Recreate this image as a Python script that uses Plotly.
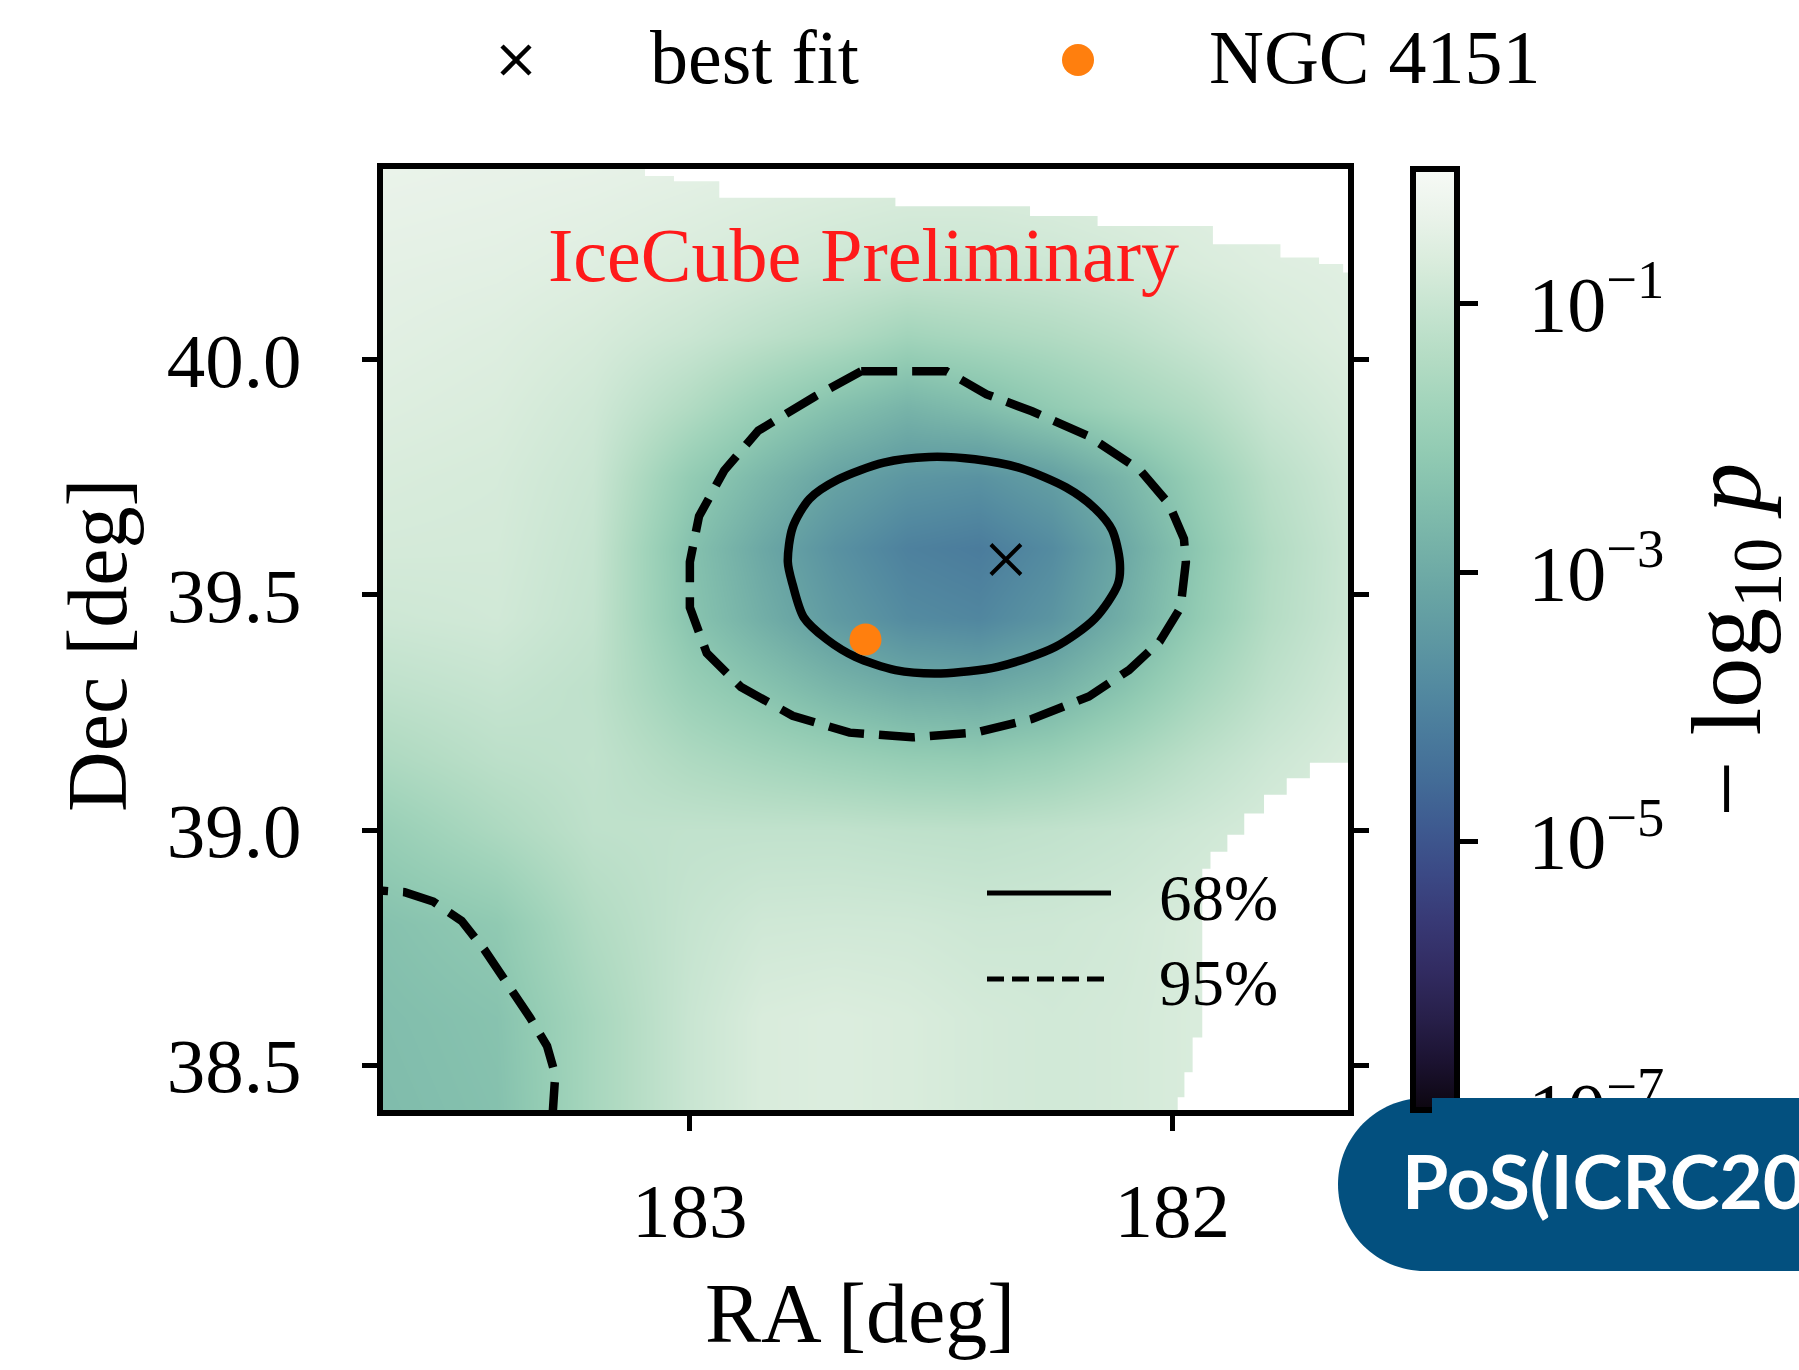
import plotly.graph_objects as go

# ---------------- data ----------------
# grid of log10(p) values (rows: Dec ascending, columns: RA ascending)
ra_grid = [181.60, 181.80, 181.95, 182.10, 182.25, 182.40, 182.55, 182.70, 182.85, 183.00, 183.20, 183.40, 183.65]
dec_grid = [38.40, 38.60, 38.80, 39.00, 39.15, 39.30, 39.45, 39.60, 39.75, 39.90, 40.05, 40.20, 40.40]
log10_p = [
    [-0.50, -0.55, -0.70, -0.80, -0.85, -0.80, -0.70, -0.65, -0.70, -1.00, -1.65, -2.40, -2.55],
    [-0.50, -0.55, -0.70, -0.80, -0.85, -0.80, -0.70, -0.65, -0.70, -1.00, -1.65, -2.35, -2.50],
    [-0.51, -0.58, -0.71, -0.84, -0.91, -0.93, -0.87, -0.86, -0.88, -1.06, -1.45, -2.15, -2.40],
    [-0.60, -0.75, -0.91, -1.05, -1.15, -1.22, -1.20, -1.15, -1.15, -1.15, -1.20, -1.55, -2.00],
    [-0.67, -0.94, -1.24, -1.59, -1.91, -2.08, -2.03, -1.88, -1.71, -1.52, -1.15, -1.25, -1.55],
    [-0.77, -1.20, -1.70, -2.29, -2.80, -3.07, -2.99, -2.71, -2.32, -1.94, -1.20, -1.05, -1.20],
    [-0.86, -1.40, -2.11, -2.90, -3.59, -3.94, -3.83, -3.45, -2.90, -2.31, -1.10, -0.85, -0.92],
    [-0.86, -1.45, -2.22, -3.07, -3.82, -4.18, -4.06, -3.66, -3.07, -2.38, -1.05, -0.80, -0.78],
    [-0.80, -1.30, -1.97, -2.69, -3.32, -3.64, -3.54, -3.20, -2.65, -2.07, -0.98, -0.76, -0.70],
    [-0.70, -1.00, -1.45, -1.75, -2.10, -2.50, -2.75, -2.40, -1.95, -1.45, -0.88, -0.68, -0.60],
    [-0.58, -0.76, -1.00, -1.25, -1.45, -1.60, -1.75, -1.45, -1.22, -0.98, -0.74, -0.60, -0.52],
    [-0.54, -0.60, -0.70, -0.82, -0.92, -0.98, -0.98, -0.90, -0.80, -0.70, -0.58, -0.50, -0.46],
    [-0.46, -0.47, -0.53, -0.55, -0.60, -0.64, -0.64, -0.59, -0.54, -0.48, -0.42, -0.39, -0.35],
]

# 68% contour (solid)
contour68_ra = [182.797, 182.787, 182.752, 182.693, 182.598, 182.504, 182.409, 182.314, 182.220, 182.161,
                182.125, 182.109, 182.113, 182.161, 182.243, 182.362, 182.480, 182.574, 182.657, 182.716,
                182.764, 182.787, 182.797]
contour68_dec = [39.570, 39.643, 39.704, 39.745, 39.781, 39.793, 39.788, 39.769, 39.728, 39.684,
                 39.638, 39.570, 39.522, 39.449, 39.389, 39.347, 39.333, 39.340, 39.368, 39.405,
                 39.452, 39.522, 39.570]

# 95% contour (dashed), main region
contour95_ra = [182.645, 182.468, 182.385, 182.291, 182.173, 182.066, 182.007, 181.976, 181.972, 181.983,
                182.026, 182.090, 182.173, 182.291, 182.409, 182.539, 182.669, 182.787, 182.894, 182.965,
                183.000, 183.000, 182.981, 182.929, 182.858, 182.740, 182.645]
contour95_dec = [39.975, 39.975, 39.926, 39.890, 39.837, 39.764, 39.693, 39.619, 39.570, 39.473,
                 39.401, 39.340, 39.284, 39.236, 39.207, 39.197, 39.207, 39.243, 39.304, 39.376,
                 39.473, 39.570, 39.667, 39.764, 39.849, 39.922, 39.975]

# 95% contour (dashed), bottom-left corner region
contour95b_ra = [183.700, 183.636, 183.591, 183.532, 183.473, 183.426, 183.378, 183.331, 183.296, 183.279, 183.284, 183.285]
contour95b_dec = [38.875, 38.872, 38.868, 38.848, 38.807, 38.746, 38.674, 38.601, 38.541, 38.480, 38.402, 38.350]

# regions without data (white, stair-stepped)
mask_top_ra = [183.093, 183.033, 182.939, 182.574, 182.295, 182.155, 181.916, 181.776, 181.696, 181.646, 181.50, 181.50, 183.093, 183.093]
mask_top_dec = [40.390, 40.379, 40.344, 40.326, 40.305, 40.284, 40.245, 40.217, 40.203, 40.185, 40.185, 40.50, 40.50, 40.390]
mask_bottom_ra = [181.50, 181.715, 181.763, 181.810, 181.851, 181.886, 181.921, 181.938, 181.958, 181.975, 181.989, 181.50, 181.50]
mask_bottom_dec = [39.143, 39.110, 39.075, 39.035, 38.990, 38.954, 38.918, 38.559, 38.485, 38.432, 38.30, 38.30, 39.143]

best_fit_ra = [182.345]
best_fit_dec = [39.575]
ngc4151_ra = [182.636]
ngc4151_dec = [39.405]

ra_range = [183.636, 181.636]
dec_range = [38.405, 40.405]
x_ticks = [182, 183]
x_ticklabels = ["182", "183"]
y_ticks = [38.5, 39.0, 39.5, 40.0]
y_ticklabels = ["38.5", "39.0", "39.5", "40.0"]
cb_ticks = [-1, -3, -5, -7]
cb_ticklabels = ["10<sup>\u22121</sup>", "10<sup>\u22123</sup>", "10<sup>\u22125</sup>", "10<sup>\u22127</sup>"]

colorscale = [
    [0.00, "#0c060f"], [0.05, "#1b1230"], [0.10, "#28204b"], [0.15, "#322c62"],
    [0.20, "#383975"], [0.25, "#3b4985"], [0.30, "#3e5a90"], [0.35, "#436c97"],
    [0.40, "#4a7b9c"], [0.45, "#538aa0"], [0.50, "#5e98a2"], [0.55, "#69a5a4"],
    [0.60, "#76b2a8"], [0.65, "#83bfad"], [0.70, "#92cbb3"], [0.75, "#a2d4bb"],
    [0.80, "#b4dcc4"], [0.85, "#c6e4d0"], [0.90, "#d9ecdc"], [0.95, "#eaf3ea"],
    [1.00, "#f7faf6"],
]

# ---------------- layout helpers ----------------
W, H = 1799, 1370
M_L, M_R, M_T, M_B = 383, 451, 169, 260
PW = W - M_L - M_R
PH = H - M_T - M_B
SERIF = "Liberation Serif"


def fx(px):
    return (px - M_L) / PW


def fy(py):
    return (H - M_B - py) / PH


NBSP = "\u00a0"

fig = go.Figure()

fig.add_trace(go.Heatmap(
    x=ra_grid, y=dec_grid, z=log10_p, zmin=-7, zmax=0, zsmooth="best",
    colorscale=colorscale, hoverinfo="skip",
    colorbar=dict(
        x=fx(1413), xanchor="left", xref="paper", xpad=0,
        y=0.5, yanchor="middle", ypad=0, len=1, lenmode="fraction",
        thickness=44, thicknessmode="pixels",
        outlinewidth=6, outlinecolor="black",
        tickmode="array", tickvals=cb_ticks,
        ticktext=[NBSP + "\u2009" + t for t in cb_ticklabels],
        ticks="outside", ticklen=18, tickwidth=5, tickcolor="black",
        tickfont=dict(family=SERIF, size=78, color="black"),
    ),
))

for mra, mdec in ((mask_top_ra, mask_top_dec), (mask_bottom_ra, mask_bottom_dec)):
    fig.add_trace(go.Scatter(
        x=mra, y=mdec, mode="lines", line=dict(width=0, shape="hv", color="white"),
        fill="toself", fillcolor="white", hoverinfo="skip", showlegend=False,
    ))

fig.add_trace(go.Scatter(
    x=contour68_ra, y=contour68_dec, mode="lines", name="68%",
    line=dict(color="black", width=8.5, shape="spline", smoothing=0.8),
    hoverinfo="skip", showlegend=False,
))
for cra, cdec in ((contour95_ra, contour95_dec), (contour95b_ra, contour95b_dec)):
    fig.add_trace(go.Scatter(
        x=cra, y=cdec, mode="lines", name="95%",
        line=dict(color="black", width=8.5, dash="36px,15px"),
        hoverinfo="skip", showlegend=False,
    ))

fig.add_trace(go.Scatter(
    x=best_fit_ra, y=best_fit_dec, mode="markers", name="best fit",
    marker=dict(symbol="x-thin", size=30, color="black", line=dict(width=4, color="black")),
    showlegend=False,
))
fig.add_trace(go.Scatter(
    x=ngc4151_ra, y=ngc4151_dec, mode="markers", name="NGC 4151",
    marker=dict(symbol="circle", size=32, color="#ff7f0e", line=dict(width=0)),
    showlegend=False,
))

annotations = []


def text_ann(txt, x, y, size, xanchor="left", yanchor="middle", color="black", angle=0, family=SERIF):
    annotations.append(dict(
        text=txt, x=fx(x), y=fy(y), xref="paper", yref="paper",
        xanchor=xanchor, yanchor=yanchor, showarrow=False, textangle=angle,
        font=dict(family=family, size=size, color=color),
    ))


text_ann("best fit", 648, 57, 76)
text_ann("NGC 4151", 1207, 57, 76)
text_ann("IceCube Preliminary", 863, 255, 76, xanchor="center", color="#ff1a1a")
text_ann("68%", 1157, 898, 65)
text_ann("95%", 1157, 983, 65)
text_ann("RA [deg]", 860, 1313, 84, xanchor="center")
text_ann("Dec [deg]", 97, 646, 84, xanchor="center", angle=-90)
text_ann("\u2212 log<sub>10</sub> <i>p</i>", 1733, 640, 100, xanchor="center", angle=-90)

# PoS badge (cover part drawn above colorbar)
annotations.append(dict(
    text=" ", x=fx(1432), y=fy(1184.5), xref="paper", yref="paper",
    xanchor="left", yanchor="middle", showarrow=False, width=420, height=173,
    bgcolor="#03507f", borderpad=0, borderwidth=0,
))
text_ann("<b>PoS(ICRC2023)</b>", 1400, 1180, 75, color="white", family="Lato")

shapes = []


def pline(x0, y0, x1, y1, width, dash=None):
    d = dict(type="line", xref="paper", yref="paper", x0=fx(x0), y0=fy(y0), x1=fx(x1), y1=fy(y1),
             line=dict(color="black", width=width))
    if dash:
        d["line"]["dash"] = dash
    shapes.append(d)


# top legend symbols
pline(502, 46, 530, 74, 4.5)
pline(502, 74, 530, 46, 4.5)
shapes.append(dict(type="circle", xref="paper", yref="paper",
                   x0=fx(1062), x1=fx(1094), y0=fy(76), y1=fy(44),
                   fillcolor="#ff7f0e", line=dict(width=0)))
# inner legend lines
pline(987, 893, 1111, 893, 5)
pline(987, 979, 1111, 979, 5, dash="17px,8px")

# badge pill
k = 47.77
cx, top, bot, r = 1424.5, 1098, 1271, 86.5
path = (f"M {fx(cx)},{fy(top)} L {fx(1900)},{fy(top)} L {fx(1900)},{fy(bot)} L {fx(cx)},{fy(bot)} "
        f"C {fx(cx - k)},{fy(bot)} {fx(cx - r)},{fy(bot - r + k)} {fx(cx - r)},{fy(bot - r)} "
        f"C {fx(cx - r)},{fy(top + r - k)} {fx(cx - k)},{fy(top)} {fx(cx)},{fy(top)} Z")
shapes.append(dict(type="path", xref="paper", yref="paper", path=path,
                   fillcolor="#03507f", line=dict(width=0), layer="above"))

axis_font = dict(family=SERIF, size=77, color="black")
fig.update_layout(
    width=W, height=H,
    margin=dict(l=M_L, r=M_R, t=M_T, b=M_B, autoexpand=False),
    paper_bgcolor="white", plot_bgcolor="white",
    showlegend=False,
    xaxis=dict(range=ra_range, tickmode="array", tickvals=x_ticks, ticktext=x_ticklabels,
               ticks="outside", ticklen=15, tickwidth=5, tickcolor="black",
               showline=True, linewidth=6, linecolor="black", mirror=True,
               showgrid=False, zeroline=False, tickfont=axis_font, ticklabelstandoff=14),
    yaxis=dict(range=dec_range, tickmode="array", tickvals=y_ticks, ticktext=y_ticklabels,
               ticks="outside", ticklen=15, tickwidth=5, tickcolor="black",
               showline=True, linewidth=6, linecolor="black", mirror="ticks",
               showgrid=False, zeroline=False, tickfont=axis_font, ticklabelstandoff=45),
    annotations=annotations,
    shapes=shapes,
)

fig.write_html("out.html")
